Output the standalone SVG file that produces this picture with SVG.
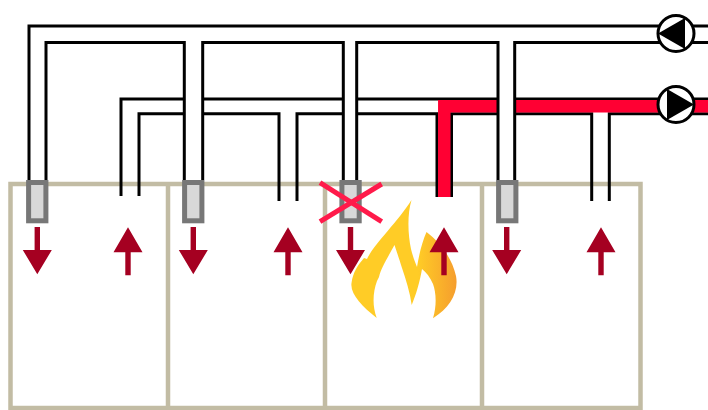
<svg xmlns="http://www.w3.org/2000/svg" width="708" height="410" viewBox="0 0 708 410">
  <style>
    .room { fill: none; stroke: #c2bca4; stroke-width: 4.5; }
    .pipe { fill: none; stroke: #000; stroke-width: 3; }
    .smoke { fill: none; stroke: #ff0033; stroke-width: 12.5; stroke-linejoin: miter; }
    .damper { fill: #d8d8d8; stroke: #777; stroke-width: 5; }
    .pump circle { fill: #fff; stroke: #000; stroke-width: 3; }
    .pump polygon { fill: #000; }
    .flow { fill: #a50021; }
    .closed { stroke: #ff1a4a; stroke-width: 5; }
  </style>
  <defs>
    <linearGradient id="fireGrad" gradientUnits="userSpaceOnUse" x1="418" y1="0" x2="458" y2="0">
      <stop offset="0" stop-color="#ffcc26"/>
      <stop offset="1" stop-color="#f59c2e"/>
    </linearGradient>
    <!-- down arrow (supply) and up arrow (extract), centred on x=0 -->
    <path id="arrowDown" d="M-2.7,227 H2.7 V250 H14.5 L0,274.3 L-14.5,250 H-2.7 Z"/>
    <path id="arrowUp" d="M0,227.3 L14.5,252.3 H2.7 V275.3 H-2.7 V252.3 H-14.5 Z"/>
  </defs>

  <!-- four rooms in a row -->
  <g id="rooms">
    <rect class="room" x="10.5" y="184" width="630" height="224"/>
    <line class="room" x1="168" y1="184" x2="168" y2="408"/>
    <line class="room" x1="325" y1="184" x2="325" y2="408"/>
    <line class="room" x1="482" y1="184" x2="482" y2="408"/>
  </g>

  <!-- duct network: supply (upper) and extract (lower) -->
  <g id="connectors">
    <!-- extract duct, outer wall -->
    <path class="pipe" d="M121,196 V99 H184.3"/>
    <path class="pipe" d="M202.7,99 H343.3"/>
    <path class="pipe" d="M356.7,99 H498"/>
    <path class="pipe" d="M514.7,99 H708"/>
    <!-- extract duct, inner wall with branches -->
    <path class="pipe" d="M139,196 V113.7 H184.3"/>
    <path class="pipe" d="M202.7,113.7 H279 V201"/>
    <path class="pipe" d="M297,201 V113.7 H343.3"/>
    <path class="pipe" d="M356.7,113.7 H437 V197"/>
    <path class="pipe" d="M451.5,197 V113.7 H498"/>
    <path class="pipe" d="M514.7,113.7 H591.7 V201"/>
    <path class="pipe" d="M609.3,201 V113.7 H708"/>
    <!-- smoke carried away from the fire room -->
    <path class="smoke" d="M444.3,197 V106.3 H497"/>
    <path class="smoke" d="M515.5,106.3 H708"/>
    <!-- supply duct -->
    <path class="pipe" d="M29,180 V26 H708"/>
    <path class="pipe" d="M46,180 V42.5 H184.3 V180"/>
    <path class="pipe" d="M202.7,180 V42.5 H343.3 V180"/>
    <path class="pipe" d="M356.7,180 V42.5 H498 V180"/>
    <path class="pipe" d="M514.7,180 V42.5 H708"/>
  </g>

  <!-- fans -->
  <g id="fan-supply" class="pump">
    <circle cx="676" cy="33.5" r="18"/>
    <polygon points="658,33.5 685,17.9 685,49.1"/>
  </g>
  <g id="fan-extract" class="pump">
    <circle cx="676" cy="104.5" r="18"/>
    <polygon points="694,104.5 667,88.9 667,120.1"/>
  </g>

  <!-- supply dampers -->
  <g id="damper-1"><rect class="damper" x="28.6" y="182.5" width="17.3" height="38.3"/></g>
  <g id="damper-2"><rect class="damper" x="184.6" y="182.5" width="17.3" height="38.3"/></g>
  <g id="damper-3"><rect class="damper" x="341.9" y="182.5" width="17.3" height="38.3"/></g>
  <g id="damper-4"><rect class="damper" x="498.6" y="182.5" width="17.3" height="38.3"/></g>

  <!-- fire in room 3 -->
  <g id="fire">
    <path fill="url(#fireGrad)" d="M376.7,318
      C362,306 350,294 351.5,283
      C353,272 358,265 364,258
      L367,259
      C374,244 396,224 411.5,200
      C407,215 408,235 411,249
      C413,257 415,262 417,267
      C419,255 422,242 426.5,232
      C440,242 452,258 456,276
      C459,292 450,308 433,318.3
      C437,305 436,292 433,284
      C430,277 426,272 422,269
      C420,281 416,295 411.7,305
      C410,292 406,280 402,268
      C399,258 396,250 394.5,245
      C388,257 381,268 379,277
      L377,281
      C373,292 372,305 376.7,318 Z"/>
  </g>

  <!-- air flow arrows -->
  <g id="flows" class="flow">
    <use href="#arrowDown" x="37.3"/>
    <use href="#arrowUp" x="128"/>
    <use href="#arrowDown" x="193.3"/>
    <use href="#arrowUp" x="288"/>
    <use href="#arrowDown" x="350.5"/>
    <use href="#arrowUp" x="444"/>
    <use href="#arrowDown" x="506.7"/>
    <use href="#arrowUp" x="601"/>
  </g>

  <!-- closed damper mark -->
  <g id="damper-3-closed" class="closed">
    <line x1="320" y1="182.7" x2="381.7" y2="221.7"/>
    <line x1="381.7" y1="184" x2="320" y2="221.7"/>
  </g>
</svg>
